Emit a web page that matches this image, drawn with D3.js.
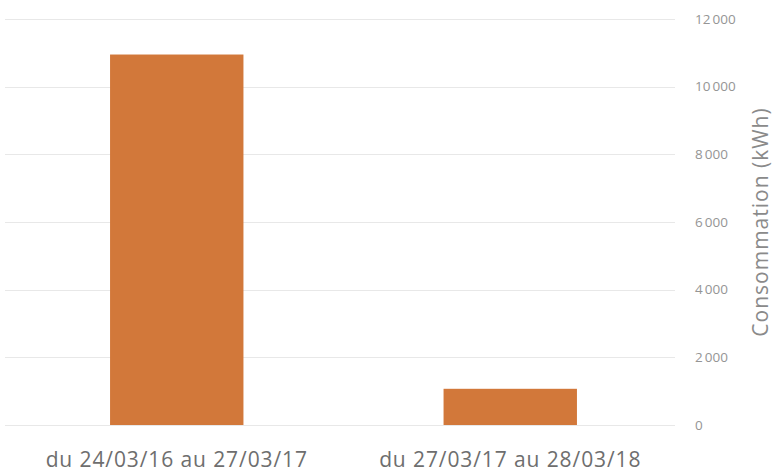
<!DOCTYPE html>
<html>
<head>
<meta charset="utf-8">
<script src="https://cdn.jsdelivr.net/npm/d3@7"></script>
<style>
  body { margin: 0; background: #fff; }
  svg { display: block; font-family: "Open Sans", sans-serif; }
</style>
</head>
<body>
<div id="chart"></div>
<script>
// data
const periods = ["du 24/03/16 au 27/03/17", "du 27/03/17 au 28/03/18"];
const conso = [10950, 1070];
const ticks = [0, 2000, 4000, 6000, 8000, 10000, 12000];
const tickLabels = ["0", "2 000", "4 000", "6 000", "8 000", "10 000", "12 000"];

const width = 774, height = 474;
const margin = { top: 19, right: 99, bottom: 49, left: 5 };

const svg = d3.select("#chart").append("svg")
    .attr("width", width)
    .attr("height", height);

const x = d3.scaleBand()
    .domain(periods)
    .range([10, width - 97])
    .paddingInner(0.6)
    .paddingOuter(0.3);

const y = d3.scaleLinear()
    .domain([0, 12000])
    .range([height - margin.bottom, margin.top]);

// gridlines
svg.append("g")
    .selectAll("line")
    .data(ticks)
    .join("line")
      .attr("x1", margin.left)
      .attr("x2", width - margin.right)
      .attr("y1", d => Math.round(y(d)) + 0.5)
      .attr("y2", d => Math.round(y(d)) + 0.5)
      .attr("stroke", "#e8e8e8")
      .attr("stroke-width", 1.2);

// bars
svg.append("g")
    .selectAll("rect")
    .data(periods)
    .join("rect")
      .attr("x", d => x(d))
      .attr("width", x.bandwidth())
      .attr("y", (d, i) => y(conso[i]))
      .attr("height", (d, i) => y(0) - y(conso[i]))
      .attr("fill", "#d2783a");

// right axis, labels left aligned
const axis = d3.axisRight(y)
    .tickValues(ticks)
    .tickFormat((d, i) => tickLabels[i])
    .tickSize(0)
    .tickPadding(0);

svg.append("g")
    .attr("transform", `translate(${width - 79},0)`)
    .call(axis)
    .call(g => g.select(".domain").remove())
    .call(g => g.selectAll("text")
        .attr("fill", "#959595")
        .style("font-family", "'Open Sans', sans-serif")
        .style("font-size", "13.5px")
        .style("word-spacing", "-1.5px"));

// category labels
svg.append("g")
    .selectAll("text")
    .data(periods)
    .join("text")
      .attr("x", d => x(d) + x.bandwidth() / 2)
      .attr("y", height - 7)
      .attr("text-anchor", "middle")
      .attr("fill", "#6e6e6e")
      .style("font-size", "21px")
      .style("letter-spacing", "0.9px")
      .text(d => d);

// axis title
svg.append("text")
    .attr("transform", `translate(${width - 6},${(y(0) + y(12000)) / 2}) rotate(-90)`)
    .attr("text-anchor", "middle")
    .attr("fill", "#8a8a8a")
    .style("font-size", "21px")
    .style("letter-spacing", "1px")
    .text("Consommation (kWh)");
</script>
</body>
</html>
